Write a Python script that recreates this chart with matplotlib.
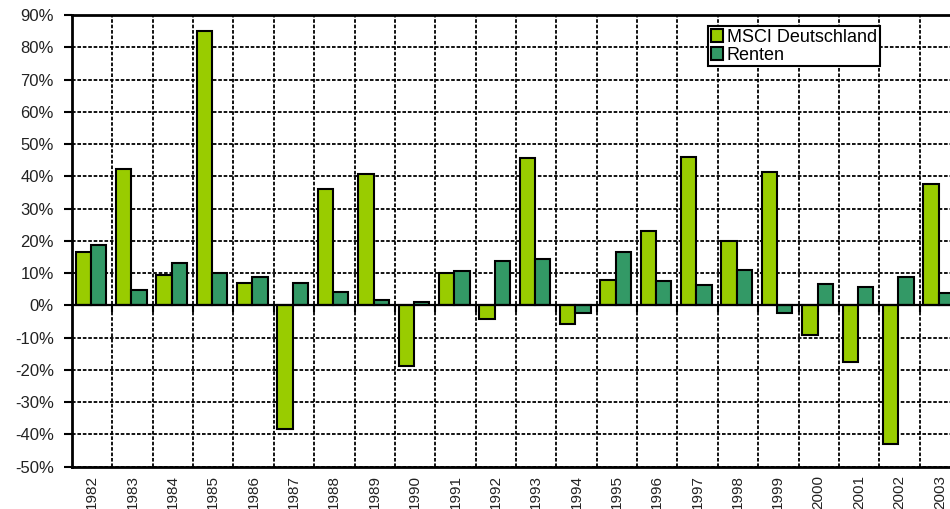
import matplotlib.pyplot as plt
import numpy as np
from matplotlib.ticker import FixedLocator

plt.rcParams['font.family'] = ['Liberation Sans', 'DejaVu Sans']

years = [str(y) for y in range(1982, 2004)]
msci = [16.5, 42.4, 9.5, 85.0, 6.8, -38.3, 36.2, 40.6, -18.7, 9.9, -4.3,
        45.8, -5.9, 8.0, 23.0, 46.0, 20.0, 41.2, -9.3, -17.5, -43.1, 37.6]
renten = [18.6, 4.8, 13.1, 10.0, 8.7, 6.8, 4.3, 1.7, 1.0, 10.6, 13.7,
          14.4, -2.3, 16.6, 7.5, 6.2, 11.1, -2.5, 6.7, 5.6, 8.7, 3.8]
yticks = list(range(-50, 100, 10))

fig = plt.figure(figsize=(9.5, 5.09), dpi=100)
# axes run past the right edge so the last column is cut off
ax = fig.add_axes([72/950, 1-466.7/509, 888/950, (466.7-15)/509])

x = np.arange(len(years))
w = 0.38
ax.bar(x - w/2 - 0.03, msci, w, color='#99cc00', edgecolor='k', linewidth=1.5,
       label='MSCI Deutschland', zorder=3)
ax.bar(x + w/2 - 0.03, renten, w, color='#339966', edgecolor='k', linewidth=1.5,
       label='Renten', zorder=3)

ax.set_xlim(-0.5, len(years) - 0.5)
ax.set_ylim(-50, 90)

ax.set_yticks(yticks)
ax.set_yticklabels([f'{v}%' for v in yticks], fontsize=12, color='#222222')
ax.tick_params(axis='y', direction='out', length=6, width=1.5, pad=7)

ax.set_xticks(x)
ax.set_xticklabels(years, rotation=90, fontsize=11, color='#222222')
ax.tick_params(axis='x', length=0, pad=6)
ax.xaxis.set_minor_locator(FixedLocator(x[:-1] + 0.5))
ax.tick_params(axis='x', which='minor', length=0)

ax.grid(axis='y', which='major', color='k', linestyle=(0, (2, 1)), linewidth=1.3, zorder=1)
ax.grid(axis='x', which='minor', color='k', linestyle=(0, (2, 1)), linewidth=1.3, zorder=1)

# category axis at zero with its small ticks
ax.axhline(0, color='k', linewidth=1.6, zorder=4)
ax.vlines(x[:-1] + 0.5, -2.2, 0, color='k', linewidth=1.5, zorder=4)

for side in ['left', 'bottom', 'top']:
    ax.spines[side].set_linewidth(2)
    ax.spines[side].set_color('k')
ax.spines['right'].set_visible(False)

leg = ax.legend(loc='upper left', bbox_to_anchor=(708/950, 1-26/509),
                bbox_transform=fig.transFigure, borderaxespad=0, fontsize=13,
                fancybox=False, framealpha=1, edgecolor='k',
                handlelength=0.7, handleheight=0.7, handletextpad=0.2,
                borderpad=0.15, labelspacing=0.05)
leg.get_frame().set_linewidth(1.5)
leg.set_zorder(5)

fig.savefig('out.png', dpi=100)
